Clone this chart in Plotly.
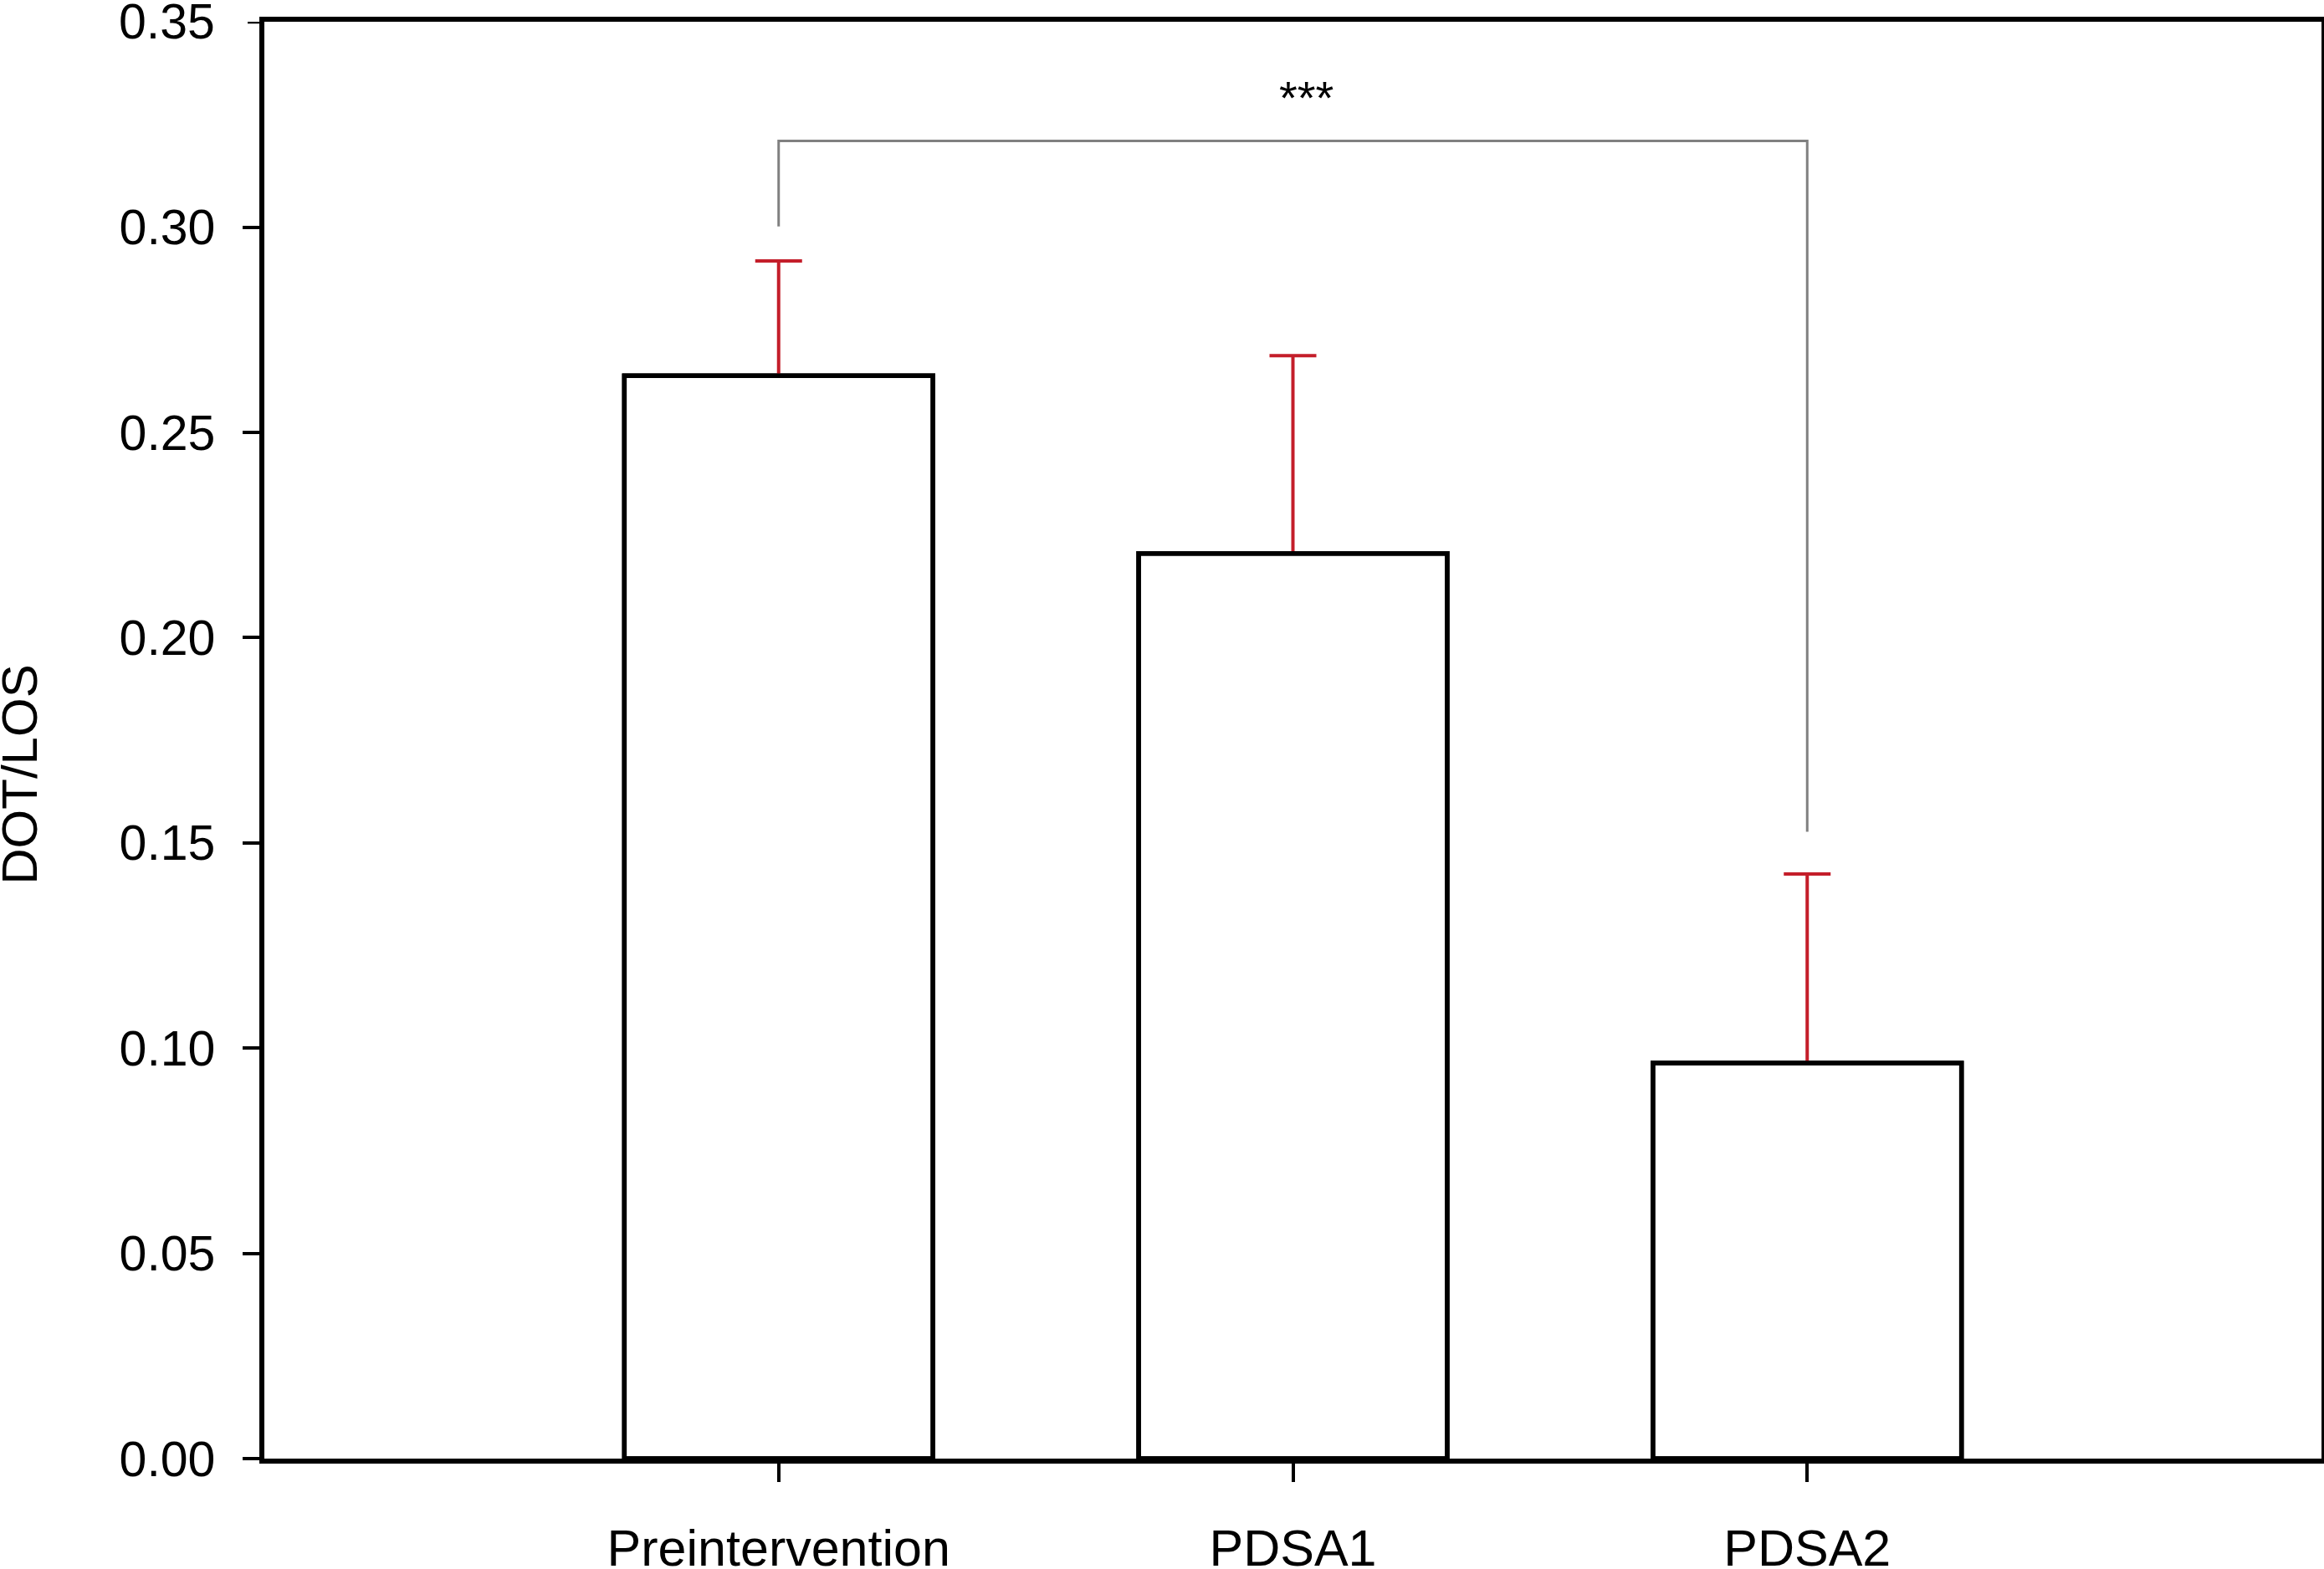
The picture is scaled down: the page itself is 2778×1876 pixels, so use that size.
import plotly.graph_objects as go

categories = ["Preintervention", "PDSA1", "PDSA2"]
means = [0.2638, 0.2205, 0.0964]
sd_upper = [0.0280, 0.0482, 0.0460]

# significance bracket between Preintervention and PDSA2
bracket_x = ["Preintervention", "Preintervention", "PDSA2", "PDSA2"]
bracket_y = [0.3002, 0.3210, 0.3210, 0.1527]
sig_label = "***"
sig_y = 0.3317

y_ticks = [0.00, 0.05, 0.10, 0.15, 0.20, 0.25, 0.30, 0.35]
y_tick_text = ["0.00", "0.05", "0.10", "0.15", "0.20", "0.25", "0.30", "0.35"]

FONT = "Liberation Sans, Arial, sans-serif"
LW = 5.5
L, R, T, B = 316, 3, 26, 132
W, H = 2778, 1876
PW = W - L - R

fig = go.Figure()
# bars with upward error bars
fig.add_trace(go.Bar(
    x=categories, y=means, width=0.6,
    marker=dict(color="white", line=dict(color="black", width=LW)),
    error_y=dict(type="data", symmetric=False, array=sd_upper,
                 arrayminus=[0] * len(sd_upper),
                 color="#C41E2A", thickness=4, width=28),
    showlegend=False, hoverinfo="skip",
))
# outline-only copy drawn on top so the bar edge hides the lower cap
fig.add_trace(go.Bar(
    x=categories, y=means, width=0.6,
    marker=dict(color="rgba(0,0,0,0)", line=dict(color="black", width=LW)),
    showlegend=False, hoverinfo="skip",
))
fig.add_trace(go.Scatter(
    x=bracket_x, y=bracket_y, mode="lines",
    line=dict(color="#808080", width=3),
    showlegend=False, hoverinfo="skip",
))
fig.add_annotation(x="PDSA1", y=sig_y, text=sig_label, showarrow=False,
                   xshift=16, font=dict(family=FONT, size=56, color="black"))
fig.add_annotation(xref="paper", yref="paper", x=(-12 - L) / PW, y=0.476,
                   xanchor="left", yanchor="middle",
                   text="DOT/LOS", textangle=-90, showarrow=False,
                   font=dict(family=FONT, size=60, color="black"))
# top tick label (plotly hides it because it reaches past the page top)
fig.add_annotation(xref="paper", yref="y", x=(259 - L) / PW, y=y_ticks[-1],
                   xanchor="right", yanchor="middle", showarrow=False,
                   text=y_tick_text[-1],
                   font=dict(family=FONT, size=59, color="black"))

fig.update_layout(
    width=W, height=H,
    margin=dict(l=L, r=R, t=T, b=B, autoexpand=False),
    plot_bgcolor="white", paper_bgcolor="white",
    font=dict(family=FONT, size=60, color="black"),
    barmode="overlay",
)
fig.update_xaxes(
    type="category", range=[-1, 3], automargin=False,
    showline=True, linecolor="black", linewidth=LW, mirror=True,
    ticks="outside", ticklen=22, tickwidth=4, tickcolor="black",
    showgrid=False, zeroline=False, ticklabelstandoff=27,
    tickfont=dict(family=FONT, size=61),
)
fig.update_yaxes(
    range=[0, 0.35005], tickvals=y_ticks[:-1], ticktext=y_tick_text[:-1],
    automargin=False,
    showline=True, linecolor="black", linewidth=LW, mirror=True,
    ticks="outside", ticklen=20, tickwidth=4, tickcolor="black",
    showgrid=False, zeroline=False, ticklabelstandoff=21,
    tickfont=dict(family=FONT, size=59),
)
# tick mark for the top value (label drawn as annotation above)
fig.add_shape(type="line", xref="paper", yref="y",
              x0=-20 / PW, x1=0, y0=y_ticks[-1], y1=y_ticks[-1],
              line=dict(color="black", width=4))

fig.write_html("out.html")
